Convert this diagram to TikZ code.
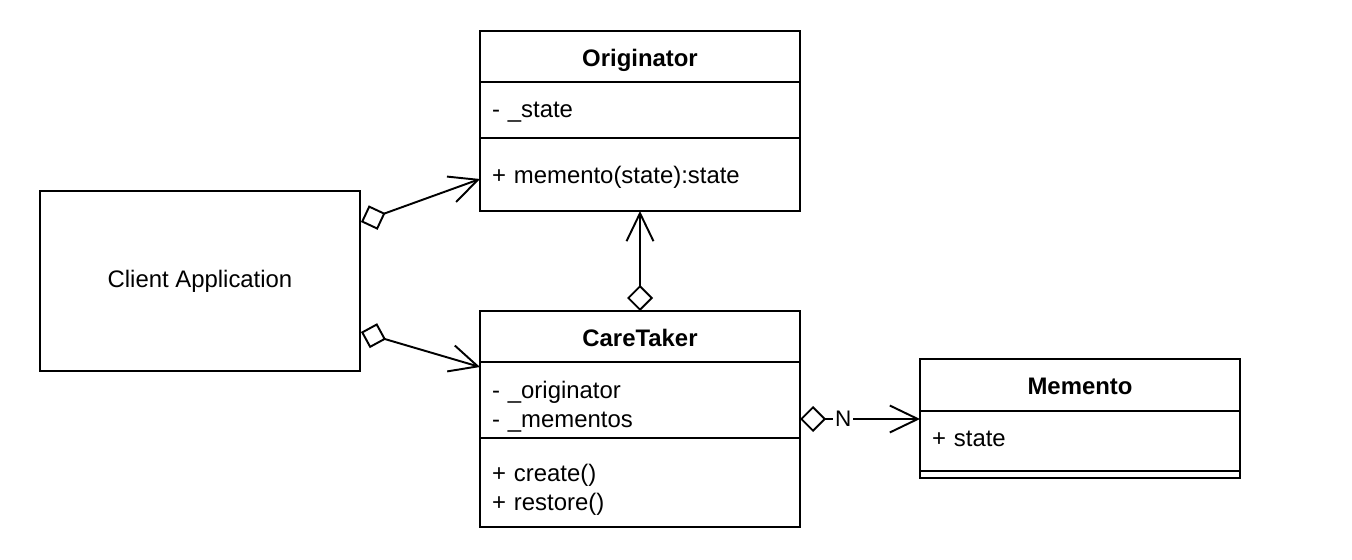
\documentclass[tikz,border=0pt]{standalone}
\usepackage{fontspec}
\setmainfont{Liberation Sans}
\usetikzlibrary{arrows.meta,positioning,calc}
\tikzset{
  cls head/.style={
    rectangle,
    draw=black,
    line width=1.1pt,
    outer sep=0pt,
    minimum width=6.4cm,
    inner sep=0pt,
    text height=0.38cm,
    text depth=0cm,
    font=\fontsize{13.6}{16.3}\selectfont\bfseries,
  },
  cls part/.style={
    rectangle,
    draw=black,
    line width=1.1pt,
    outer sep=0pt,
    text width=5.92cm,
    inner xsep=0.24cm,
    inner ysep=0pt,
    align=left,
    font=\fontsize{13.6}{16.3}\selectfont,
  },
  text drop/.style={execute at end node={\par\vspace*{-#1}}},
  client box/.style={
    rectangle,
    draw=black,
    line width=1.1pt,
    minimum width=6.4cm,
    minimum height=3.6cm,
    font=\fontsize{13.6}{16.3}\selectfont,
  },
  agg arrow/.style={
    {Diamond[open,length=0.52cm,width=0.52cm]}-{Straight Barb[length=0.56cm,width=0.54cm]},
    line width=1.1pt,
  },
  mult label/.style={fill=white, inner sep=1pt, font=\fontsize{12.8}{14}\selectfont},
}
\begin{document}
\begin{tikzpicture}
  \useasboundingbox (0,0) rectangle (27.04,-11.2);

  \node[client box] (client) at (4,-5.62) {Client Application};

  % Originator
  \node[cls head, minimum height=1.02cm, anchor=north] (ohead) at (12.8,-0.62) {Originator};
  \node[cls part, minimum height=1.12cm, text drop=0.12cm, below=0pt of ohead] (oattrs) {- \_state};
  \node[cls part, minimum height=1.46cm, text drop=0.1cm, below=0pt of oattrs] (omethods) {+ memento(state):state};

  % CareTaker
  \node[cls head, minimum height=1.02cm, anchor=north] (chead) at (12.8,-6.22) {CareTaker};
  \node[cls part, minimum height=1.52cm, text drop=0.28cm, below=0pt of chead] (cattrs) {- \_originator\\- \_mementos};
  \node[cls part, minimum height=1.78cm, text drop=0.28cm, below=0pt of cattrs] (cmethods) {+ create()\\+ restore()};

  % Memento
  \node[cls head, minimum height=1.04cm, anchor=north] (mhead) at (21.6,-7.18) {Memento};
  \node[cls part, minimum height=1.2cm, text drop=-0.08cm, below=0pt of mhead] (mattrs) {+ state};
  \node[cls head, minimum height=0.14cm, text height=0cm, below=0pt of mattrs] (mfoot) {};

  \draw[agg arrow] ([yshift=1.18cm]client.east) -- ([yshift=-0.09cm]omethods.west);
  \draw[agg arrow] ([yshift=-1.02cm]client.east) -- ([yshift=-0.1cm]chead.south west);
  \draw[agg arrow] (chead.north) -- (omethods.south);

  \coordinate (mend) at ($(mattrs.west)+(0,0.44)$);
  \draw[agg arrow] (mend -| cattrs.east) -- node[mult label, pos=0.36] (mult) {N} (mend);
\end{tikzpicture}
\end{document}
